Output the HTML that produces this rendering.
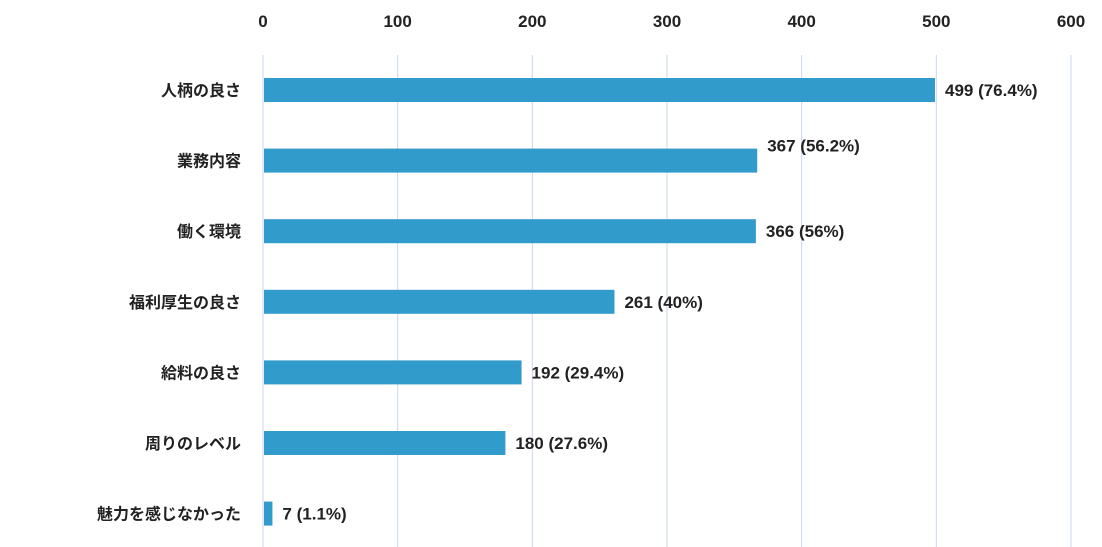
<!DOCTYPE html>
<html><head><meta charset="utf-8"><style>
html,body{margin:0;padding:0;background:#fff;}
svg{display:block;font-family:"Liberation Sans","Noto Sans CJK JP",sans-serif;}
</style></head><body>
<svg id="chart" width="1102" height="547" viewBox="0 0 1102 547"></svg>
<script>
const categories = ["人柄の良さ","業務内容","働く環境","福利厚生の良さ","給料の良さ","周りのレベル","魅力を感じなかった"];
const values = [499,367,366,261,192,180,7];
const valueLabels = ["499 (76.4%)","367 (56.2%)","366 (56%)","261 (40%)","192 (29.4%)","180 (27.6%)","7 (1.1%)"];
const ticks = [0,100,200,300,400,500,600];

const svgEl = document.getElementById('chart');
const NS = 'http://www.w3.org/2000/svg';
const x0 = 263, x1 = 1071, xMax = 600;
const plotTop = 55, rowH = 70.6, barH = 24;
function xScale(v){ return x0 + (v / xMax) * (x1 - x0); }
function yCenter(i){ return plotTop + 35 + i * rowH; }
function mk(tag, attrs){ const e = document.createElementNS(NS, tag); for (const k in attrs) e.setAttribute(k, attrs[k]); svgEl.appendChild(e); return e; }

ticks.forEach((t) => {
  const x = xScale(t);
  const g = mk('line', {x1:x, x2:x, y1:plotTop, y2:547, stroke:'#c9d6ef', 'stroke-width':1});
  
  
  const tl = mk('text', {x:x, y:27, 'text-anchor':'middle', 'font-size':17, 'font-weight':'bold', fill:'#222'});
  tl.textContent = t;
  
  
});

categories.forEach((c, i) => {
  const cy = yCenter(i);
  const cl = mk('text', {x:241, y:cy + 6, 'text-anchor':'end', 'font-size':16, 'font-weight':'bold', fill:'#222'});
  cl.textContent = c;
  
  
  const w = xScale(values[i]) - x0;
  const b = mk('rect', {x:x0 + 1, y:cy - barH / 2, width:Math.max(w - 1, 1), height:barH, fill:'#319bcc'});
  
  
  const dy = i === 1 ? -15 : 0;
  const vl = mk('text', {x:xScale(values[i]) + 10, y:cy + 6 + dy, 'font-size':17, 'font-weight':'bold', fill:'#222'});
  vl.textContent = valueLabels[i];
  
  
});
</script>
</body></html>
